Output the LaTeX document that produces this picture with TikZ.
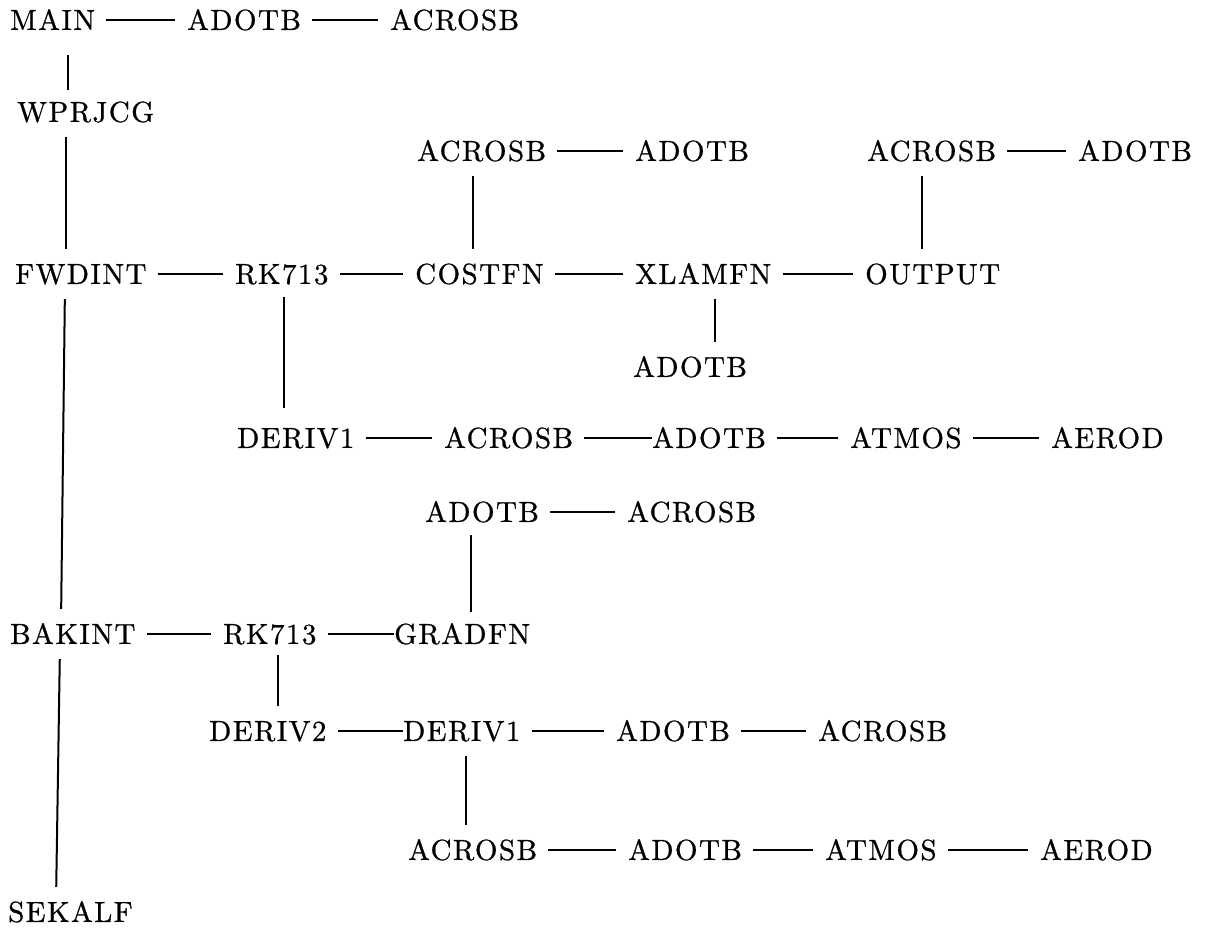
\documentclass[tikz,border=0pt]{standalone}
\usepackage{fontspec}
\newfontfamily\lmfont{lmroman10-regular.otf}[LetterSpace=5,FakeBold=0.8]
\begin{document}
\begin{tikzpicture}[x=1pt,y=-1pt,
  n/.style={anchor=west, inner sep=0pt, text height=19.8pt, text depth=0pt,
            font=\lmfont\fontsize{29}{30}\selectfont},
  hl/.style={line width=2pt, shorten <=11pt, shorten >=12pt},
  hlt/.style={line width=2pt, shorten <=11pt, shorten >=0pt},
  vl/.style={line width=2pt, shorten <=15pt, shorten >=15pt}]
\fill[white] (0,0) rectangle (1212,927);
\useasboundingbox (0,0) rectangle (1212,927);

% row 1
\node[n] (main) at (10,20) {MAIN};
\node[n] (adotbA) at (187,20) {ADOTB};
\node[n] (acrosbA) at (390,20) {ACROSB};
\node[n] (wprjcg) at (17,112) {WPRJCG};
% row 3
\node[n] (acrosbB) at (417,151) {ACROSB};
\node[n] (adotbB) at (635,151) {ADOTB};
\node[n] (acrosbC) at (867,151) {ACROSB};
\node[n] (adotbC) at (1078,151) {ADOTB};
% row 4
\node[n] (fwdint) at (15,274) {FWDINT};
\node[n] (rkA) at (235,274) {RK713};
\node[n] (costfn) at (415,274) {COSTFN};
\node[n] (xlamfn) at (635,274) {XLAMFN};
\node[n] (output) at (865,274) {OUTPUT};
\node[n] (adotbD) at (633,367) {ADOTB};
% row 6
\node[n] (derivA) at (237,438) {DERIV1};
\node[n] (acrosbD) at (444,438) {ACROSB};
\node[n] (adotbE) at (652,438) {ADOTB};
\node[n] (atmosA) at (850,438) {ATMOS};
\node[n] (aerodA) at (1051,438) {AEROD};
% row 7
\node[n] (adotbF) at (425,512) {ADOTB};
\node[n] (acrosbE) at (627,512) {ACROSB};
% row 8
\node[n] (bakint) at (10,634) {BAKINT};
\node[n] (rkB) at (223,634) {RK713};
\node[n] (gradfn) at (394,634) {GRADFN};
% row 9
\node[n] (derivC) at (209,731) {DERIV2};
\node[n] (derivB) at (403,731) {DERIV1};
\node[n] (adotbG) at (616,731) {ADOTB};
\node[n] (acrosbF) at (818,731) {ACROSB};
% row 10
\node[n] (acrosbG) at (408,850) {ACROSB};
\node[n] (adotbH) at (628,850) {ADOTB};
\node[n] (atmosB) at (825,850) {ATMOS};
\node[n] (aerodB) at (1040,850) {AEROD};
\node[n] (sekalf) at (8,912) {SEKALF};

% horizontal connectors
\draw[hl] (main) -- (adotbA);
\draw[hl] (adotbA) -- (acrosbA);
\draw[hl] (acrosbB) -- (adotbB);
\draw[hl] (acrosbC) -- (adotbC);
\draw[hl] (fwdint) -- (rkA);
\draw[hl] (rkA) -- (costfn);
\draw[hl] (costfn) -- (xlamfn);
\draw[hl] (xlamfn) -- (output);
\draw[hl] (derivA) -- (acrosbD);
\draw[hlt] (acrosbD) -- (adotbE);
\draw[hl] (adotbE) -- (atmosA);
\draw[hl] (atmosA) -- (aerodA);
\draw[hl] (adotbF) -- (acrosbE);
\draw[hl] (bakint) -- (rkB);
\draw[hlt] (rkB) -- (gradfn);
\draw[hlt] (derivC) -- (derivB);
\draw[hl] (derivB) -- (adotbG);
\draw[hl] (adotbG) -- (acrosbF);
\draw[hl] (acrosbG) -- (adotbH);
\draw[hl] (adotbH) -- (atmosB);
\draw[hl] (atmosB) -- (aerodB);

% vertical connectors
\coordinate (x1) at (68,0);
\coordinate (x2) at (66,0);
\coordinate (x3a) at (65,0);
\coordinate (x3b) at (61,0);
\coordinate (x4a) at (60,0);
\coordinate (x4b) at (56,0);
\coordinate (x5) at (473,0);
\coordinate (x6) at (922,0);
\coordinate (x7) at (715,0);
\coordinate (x8) at (284,0);
\coordinate (x9) at (471,0);
\coordinate (x10) at (278,0);
\coordinate (x11) at (466,0);
\draw[vl, shorten <=25pt, shorten >=12pt] (main.south -| x1) -- (wprjcg.north -| x1);
\draw[vl] (wprjcg.south -| x2) -- (fwdint.north -| x2);
\draw[vl] (fwdint.south -| x3a) -- (bakint.north -| x3b);
\draw[vl] (bakint.south -| x4a) -- (sekalf.north -| x4b);
\draw[vl] (acrosbB.south -| x5) -- (costfn.north -| x5);
\draw[vl] (acrosbC.south -| x6) -- (output.north -| x6);
\draw[vl] (xlamfn.south -| x7) -- (adotbD.north -| x7);
\draw[vl, shorten <=13pt, shorten >=20pt] (rkA.south -| x8) -- (derivA.north -| x8);
\draw[vl, shorten <=13pt, shorten >=12pt] (adotbF.south -| x9) -- (gradfn.north -| x9);
\draw[vl, shorten <=11pt] (rkB.south -| x10) -- (derivC.north -| x10);
\draw[vl] (derivB.south -| x11) -- (acrosbG.north -| x11);
\end{tikzpicture}
\end{document}
